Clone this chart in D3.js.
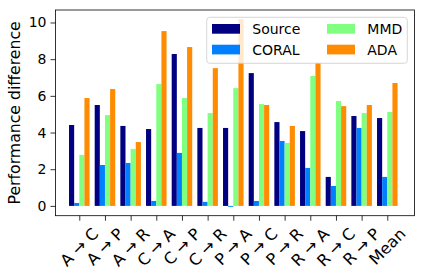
<!DOCTYPE html>
<html>
<head>
<meta charset="utf-8">
<script src="https://cdn.jsdelivr.net/npm/d3@7"></script>
<style>
  body { margin: 0; background: #fff; }
  svg { font-family: "DejaVu Sans", sans-serif; }
</style>
</head>
<body>
<div id="chart"></div>
<script>
const categories = ["A → C", "A → P", "A → R", "C → A", "C → P", "C → R",
  "P → A", "P → C", "P → R", "R → A", "R → C", "R → P", "Mean"];
const sourceVals = [4.41, 5.50, 4.36, 4.19, 8.28, 4.25, 4.25, 7.24, 4.57, 4.08, 1.58, 4.90, 4.79];
const coralVals  = [0.16, 2.23, 2.34, 0.27, 2.89, 0.22, -0.05, 0.27, 3.54, 2.07, 1.09, 4.25, 1.58];
const mmdVals    = [2.78, 4.95, 3.10, 6.64, 5.88, 5.06, 6.42, 5.55, 3.43, 7.08, 5.72, 5.06, 5.12];
const adaVals    = [5.88, 6.37, 3.48, 9.53, 8.66, 7.51, 10.18, 5.50, 4.36, 7.80, 5.44, 5.50, 6.70];
const seriesNames = ["Source", "CORAL", "MMD", "ADA"];
const yTicks = [0, 2, 4, 6, 8, 10];

const seriesColors = ["#000080", "#0080ff", "#80ff80", "#ff8c00"];
const allSeries = [sourceVals, coralVals, mmdVals, adaVals];

const width = 424, height = 280;
const plotLeft = 55.5, plotRight = 414.5, plotTop = 10, plotBottom = 215.7;
const barW = 0.2;

const svg = d3.select("#chart").append("svg")
  .attr("width", width).attr("height", height)
  .style("font-size", "14px");

const x = d3.scaleLinear().domain([-0.927, 13.06]).range([plotLeft, plotRight]);
const y = d3.scaleLinear().domain([-0.534, 10.68]).range([plotBottom, plotTop]);

// bars
allSeries.forEach(function (vals, s) {
  svg.append("g")
    .selectAll("rect")
    .data(vals)
    .enter()
    .append("rect")
    .attr("x", function (d, i) { return x(i + (s - 2) * barW); })
    .attr("width", x(barW) - x(0))
    .attr("y", function (d) { return y(Math.max(0, d)); })
    .attr("height", function (d) { return Math.abs(y(d) - y(0)); })
    .attr("fill", seriesColors[s]);
});

// axes
const yAxis = svg.append("g")
  .attr("transform", "translate(" + plotLeft + ",0)")
  .call(d3.axisLeft(y).tickValues(yTicks).tickSize(5).tickPadding(4));
const xAxis = svg.append("g")
  .attr("transform", "translate(0," + plotBottom + ")")
  .call(d3.axisBottom(x).tickValues(d3.range(categories.length)).tickSize(5).tickFormat(""));

[yAxis, xAxis].forEach(function (a) {
  a.select(".domain").remove();
  a.selectAll("line").attr("stroke", "#000").attr("stroke-width", 0.8);
  a.selectAll("text").attr("font-size", "14px").attr("fill", "#000")
    .attr("font-family", "DejaVu Sans");
});

// frame
svg.append("rect")
  .attr("x", plotLeft).attr("y", plotTop)
  .attr("width", plotRight - plotLeft).attr("height", plotBottom - plotTop)
  .attr("fill", "none").attr("stroke", "#000").attr("stroke-width", 0.8);

// rotated x labels, centred on the tick like matplotlib ha=center
const labelTop = plotBottom + 5 + 4;
const xl = svg.append("g").style("font-size", "16px");
categories.forEach(function (c, i) {
  const t = xl.append("text")
    .attr("text-anchor", "middle")
    .attr("dominant-baseline", "central")
    .attr("fill", "#000")
    .text(c);
  const w = t.node().getComputedTextLength();
  const h = 18;
  const half = (w + h) / (2 * Math.SQRT2);
  const cx = x(i), cy = labelTop + half;
  t.attr("transform", "translate(" + cx + "," + cy + ") rotate(-45)");
});

// y label
svg.append("text")
  .attr("transform", "translate(14," + (plotTop + plotBottom) / 2 + ") rotate(-90)")
  .attr("text-anchor", "middle")
  .attr("dominant-baseline", "central")
  .attr("fill", "#000")
  .style("font-size", "15.7px")
  .text("Performance difference");

// legend
const lg = svg.append("g");
lg.append("rect")
  .attr("x", 206.7).attr("y", 17.3)
  .attr("width", 200.6).attr("height", 46)
  .attr("rx", 3).attr("ry", 3)
  .attr("fill", "rgba(255,255,255,0.8)")
  .attr("stroke", "#cccccc").attr("stroke-width", 0.8);

const colX = [212, 327];
const rowY = [24, 44.7];
seriesNames.forEach(function (n, k) {
  const col = Math.floor(k / 2), row = k % 2;
  lg.append("rect")
    .attr("x", colX[col]).attr("y", rowY[row])
    .attr("width", 28).attr("height", 9.7)
    .attr("fill", seriesColors[k]);
  lg.append("text")
    .attr("x", colX[col] + 40.3).attr("y", rowY[row] + 10)
    .attr("fill", "#000")
    .text(n);
});
</script>
</body>
</html>
